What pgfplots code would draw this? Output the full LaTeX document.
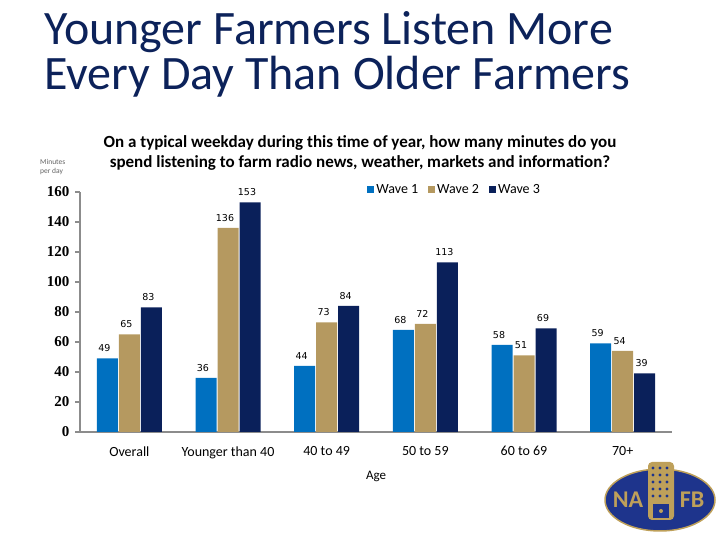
\documentclass[border=0pt]{standalone}
\usepackage{pgfplots}
\pgfplotsset{compat=1.18}
\usepackage{fontspec}
\setmainfont{Carlito}
\newfontfamily\tickserif{Liberation Serif}
\newfontfamily\labelsans{DejaVu Sans}
\definecolor{waveone}{RGB}{0,112,192}
\definecolor{wavetwo}{RGB}{181,153,96}
\definecolor{wavethree}{RGB}{10,32,90}
\definecolor{titleblue}{RGB}{12,34,90}
\definecolor{axisgray}{RGB}{140,140,140}
\definecolor{logoblue}{RGB}{30,52,140}
\definecolor{logogold}{RGB}{190,160,90}

\pgfplotstableread{
x w1 w2 w3
0 49 65 83
1 36 136 153
2 44 73 84
3 68 72 113
4 58 51 69
5 59 54 39
}\minutes

\begin{document}
\begin{tikzpicture}
\path[use as bounding box] (0pt,0pt) rectangle (720pt,540pt);
% title
\node[anchor=base west, text=titleblue, font=\fontsize{48}{45}\selectfont, inner sep=0pt] at (44pt,495pt)
  {Younger Farmers Listen More};
\node[anchor=base west, text=titleblue, font=\fontsize{48}{45}\selectfont, inner sep=0pt] at (44pt,450pt)
  {Every Day Than Older Farmers};
\node[anchor=base, font=\fontsize{17}{20}\selectfont\bfseries, inner sep=0pt] at (360pt,392pt)
  {On a typical weekday during this time of year, how many minutes do you};
\node[anchor=base, font=\fontsize{17}{20}\selectfont\bfseries, inner sep=0pt] at (360pt,372pt)
  {spend listening to farm radio news, weather, markets and information?};
\node[anchor=north west, align=left, text=axisgray!70!black, font=\fontsize{7.5}{9}\selectfont, inner sep=0pt] at (40pt,381pt)
  {Minutes\\per day};
\begin{axis}[
  at={(80pt,108pt)}, anchor=south west,
  width=592pt, height=240pt, scale only axis,
  ybar=1pt, bar width=21pt,
  xmin=-0.5, xmax=5.5, ymin=0, ymax=160,
  axis x line=bottom, axis y line=left,
  axis line style={axisgray, line width=1.2pt, -},
  xtick={0,...,5},
  xticklabels={Overall,Younger than 40,40 to 49,50 to 59,60 to 69,70+},
  major x tick style={draw=none},
  extra x ticks={-0.5,0.5,...,5.5},
  extra x tick labels={},
  extra x tick style={tick align=outside, major tick length=5pt, tick style={axisgray, line width=1.2pt}},
  ytick={0,20,...,160},
  y tick style={axisgray, line width=1.2pt},
  tick align=outside, major tick length=5pt,
  /pgf/number format/assume math mode=true,
  yticklabel style={font=\tickserif\bfseries\fontsize{15}{16}\selectfont, xshift=-2pt},
  xticklabel style={font=\fontsize{14}{16}\selectfont, yshift=-6pt},
  xlabel={Age}, xlabel style={font=\fontsize{13}{15}\selectfont, yshift=4pt},
  nodes near coords,
  every node near coord/.append style={font=\labelsans\fontsize{9.5}{11}\selectfont, text=black, xshift=-3pt, yshift=3pt},
  legend style={at={(0.48,1.01)}, anchor=west, draw=none, fill=none,
    font=\fontsize{14}{16}\selectfont, legend columns=-1,
    /tikz/every even column/.append style={column sep=8pt}},
  legend image code/.code={\fill[#1] (0pt,-3.5pt) rectangle (7pt,3.5pt);},
]
\addplot[fill=waveone, draw=none] table[x=x,y=w1] {\minutes};
\addplot[fill=wavetwo, draw=none] table[x=x,y=w2] {\minutes};
\addplot[fill=wavethree, draw=none] table[x=x,y=w3] {\minutes};
\legend{Wave 1,Wave 2,Wave 3}
\end{axis}
% logo
\fill[logoblue, draw=logogold, line width=1.5pt] (660pt,40pt) ellipse (55pt and 31pt);
\fill[logogold, rounded corners=4pt] (648pt,20pt) rectangle (674pt,78pt);
\fill[logoblue] (653pt,22pt) rectangle (669pt,36pt);
\fill[logogold] (661pt,29pt) circle (2pt);
\foreach \r in {0,...,4}{\foreach \c in {0,1,2}{\fill[logoblue] (653pt+\c*7pt,44pt+\r*7pt) circle (1.6pt);}}
\node[text=logogold, font=\fontsize{24}{24}\selectfont\bfseries, inner sep=0pt] at (628pt,40pt) {NA};
\node[text=logogold, font=\fontsize{24}{24}\selectfont\bfseries, inner sep=0pt] at (692pt,40pt) {FB};
\end{tikzpicture}
\end{document}
